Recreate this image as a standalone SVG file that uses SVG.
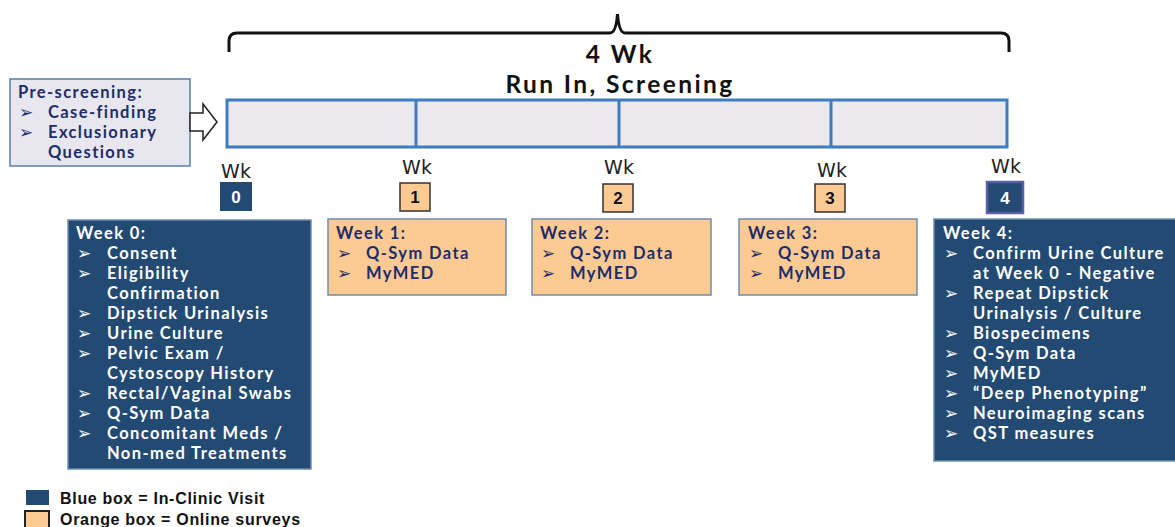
<svg xmlns="http://www.w3.org/2000/svg" width="1175" height="527" viewBox="0 0 1175 527">
<style>
.t{font-family:Lato,"Open Sans",sans-serif;font-weight:bold;font-size:16.5px;letter-spacing:1.4px}
.w{fill:#ffffff}
.n{fill:#1c2d6b}
.b{font-family:"DejaVu Sans",sans-serif;font-size:17px}
.wk{font-family:"DejaVu Sans",sans-serif;font-size:19px;fill:#222}
.num{font-family:"Liberation Sans",Arial,sans-serif;font-weight:bold;font-size:17px;text-anchor:middle}
.blue{fill:#234a72;stroke:#6d8db0;stroke-width:1.5}
.orng{fill:#fdca94;stroke:#6d8db0;stroke-width:1.5}
.hdr{font-family:Lato,"Open Sans",sans-serif;font-weight:bold;font-size:24.5px;letter-spacing:2.4px;fill:#111;text-anchor:middle}
.leg{font-family:"Liberation Sans",Arial,sans-serif;font-weight:bold;font-size:16px;letter-spacing:0.7px;fill:#111}
</style>
<rect width="1175" height="527" fill="#ffffff"/>
<g id="brace">
<path d="M229,52 V41 Q229,33 237,33 H610 Q616,33 617.5,14 Q619,33 625,33 H1001 Q1009,33 1009,41 V52" fill="none" stroke="#111" stroke-width="3"/>
<text class="hdr" x="620" y="63">4 Wk</text>
<text class="hdr" x="620" y="93">Run In, Screening</text>
</g>
<g id="prescreening">
<rect x="10" y="79" width="180" height="87" fill="#e8e6ee" stroke="#5a7fa8" stroke-width="1.5"/>
<text class="t n" x="18" y="98">Pre-screening:</text>
<text class="b n" x="19" y="118">➢</text><text class="t n" x="48" y="118">Case-finding</text>
<text class="b n" x="19" y="138">➢</text><text class="t n" x="48" y="138">Exclusionary</text>
<text class="t n" x="48" y="158">Questions</text>
</g>
<g id="connectors">
<path d="M190,113 H203 V104 L217,122 L203,140 V131 H190 Z" fill="#ffffff" stroke="#222" stroke-width="1.5"/>
</g>
<g id="timeline">
<rect x="227" y="100" width="780" height="47" fill="#ebe8ee" stroke="#3d7dbf" stroke-width="3"/>
<line x1="416" y1="100" x2="416" y2="147" stroke="#3d7dbf" stroke-width="3"/>
<line x1="619" y1="100" x2="619" y2="147" stroke="#3d7dbf" stroke-width="3"/>
<line x1="831" y1="100" x2="831" y2="147" stroke="#3d7dbf" stroke-width="3"/>
<text class="wk" x="236" y="178" text-anchor="middle">Wk</text>
<text class="wk" x="417" y="174" text-anchor="middle">Wk</text>
<text class="wk" x="619" y="174" text-anchor="middle">Wk</text>
<text class="wk" x="832" y="177" text-anchor="middle">Wk</text>
<text class="wk" x="1006" y="173" text-anchor="middle">Wk</text>
</g>
<g id="wk0num">
<rect x="220" y="182" width="32" height="29" fill="#234a72"/>
<text class="num w" x="236" y="203">0</text>
</g>
<g id="wk1num">
<rect x="400" y="183" width="30" height="28" fill="#fdca94" stroke="#333" stroke-width="1.5"/>
<text class="num" x="415" y="203" fill="#111">1</text>
</g>
<g id="wk2num">
<rect x="603" y="184" width="30" height="28" fill="#fdca94" stroke="#333" stroke-width="1.5"/>
<text class="num" x="618" y="204" fill="#111">2</text>
</g>
<g id="wk3num">
<rect x="815" y="184" width="30" height="28" fill="#fdca94" stroke="#333" stroke-width="1.5"/>
<text class="num" x="830" y="204" fill="#111">3</text>
</g>
<g id="wk4num">
<rect x="987" y="182" width="36" height="31" fill="#234a72" stroke="#5b5ea6" stroke-width="2.5"/>
<text class="num w" x="1005" y="204">4</text>
</g>
<g id="week0">
<rect class="blue" x="68" y="220" width="243" height="249"/>
<text class="t w" x="76" y="239">Week 0:</text>
<g class="b w">
<text x="77" y="259">➢</text><text x="77" y="279">➢</text><text x="77" y="319">➢</text><text x="77" y="339">➢</text><text x="77" y="359">➢</text><text x="77" y="399">➢</text><text x="77" y="419">➢</text><text x="77" y="439">➢</text>
</g>
<g class="t w">
<text x="107" y="259">Consent</text>
<text x="107" y="279">Eligibility</text>
<text x="107" y="299">Confirmation</text>
<text x="107" y="319">Dipstick Urinalysis</text>
<text x="107" y="339">Urine Culture</text>
<text x="107" y="359">Pelvic Exam /</text>
<text x="107" y="379">Cystoscopy History</text>
<text x="107" y="399">Rectal/Vaginal Swabs</text>
<text x="107" y="419">Q-Sym Data</text>
<text x="107" y="439">Concomitant Meds /</text>
<text x="107" y="459">Non-med Treatments</text>
</g>
</g>
<g id="week1">
<rect class="orng" x="328" y="219" width="178" height="76"/>
<text class="t n" x="336" y="239">Week 1:</text>
<text class="b n" x="337" y="259">➢</text><text class="t n" x="366" y="259">Q-Sym Data</text>
<text class="b n" x="337" y="279">➢</text><text class="t n" x="366" y="279">MyMED</text>
</g>
<g id="week2">
<rect class="orng" x="532" y="219" width="179" height="76"/>
<text class="t n" x="540" y="239">Week 2:</text>
<text class="b n" x="541" y="259">➢</text><text class="t n" x="570" y="259">Q-Sym Data</text>
<text class="b n" x="541" y="279">➢</text><text class="t n" x="570" y="279">MyMED</text>
</g>
<g id="week3">
<rect class="orng" x="739" y="219" width="178" height="76"/>
<text class="t n" x="748" y="239">Week 3:</text>
<text class="b n" x="749" y="259">➢</text><text class="t n" x="778" y="259">Q-Sym Data</text>
<text class="b n" x="749" y="279">➢</text><text class="t n" x="778" y="279">MyMED</text>
</g>
<g id="week4">
<rect class="blue" x="934" y="219" width="245" height="242"/>
<text class="t w" x="943" y="239">Week 4:</text>
<g class="b w">
<text x="944" y="259">➢</text><text x="944" y="299">➢</text><text x="944" y="339">➢</text><text x="944" y="359">➢</text><text x="944" y="379">➢</text><text x="944" y="399">➢</text><text x="944" y="419">➢</text><text x="944" y="439">➢</text>
</g>
<g class="t w">
<text x="973" y="259">Confirm Urine Culture</text>
<text x="973" y="279">at Week 0 - Negative</text>
<text x="973" y="299">Repeat Dipstick</text>
<text x="973" y="319">Urinalysis / Culture</text>
<text x="973" y="339">Biospecimens</text>
<text x="973" y="359">Q-Sym Data</text>
<text x="973" y="379">MyMED</text>
<text x="973" y="399">“Deep Phenotyping”</text>
<text x="973" y="419">Neuroimaging scans</text>
<text x="973" y="439">QST measures</text>
</g>
</g>
<g id="legend">
<rect x="26" y="490" width="23" height="15" fill="#234a72"/>
<text class="leg" x="60" y="504">Blue box = In-Clinic Visit</text>
<rect x="25" y="511" width="24" height="17" fill="#fdca94" stroke="#222" stroke-width="2"/>
<text class="leg" x="60" y="525">Orange box = Online surveys</text>
</g>
</svg>
